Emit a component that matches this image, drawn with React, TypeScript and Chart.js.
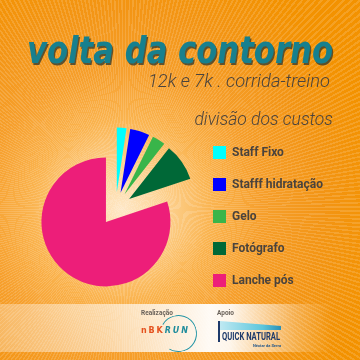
import React, { useEffect, useRef } from "react";
import { Chart, registerables } from "chart.js";

Chart.register(...registerables);

// ---- data ----
const categories = ["Staff Fixo", "Stafff hidratação", "Gelo", "Fotógrafo", "Lanche pós"];
const costShares = [2.4, 4.9, 3.3, 9.3, 80.1];
const sliceColors = ["#00ffff", "#0000ff", "#39b54a", "#006837", "#ed1e79"];
const mainTitle = "volta da contorno";
const subTitle = "12k e 7k . corrida-treino";
const legendTitle = "divisão dos custos";
const sponsorLabels = ["Realização", "Apoio"];

const TEXT_DARK = "#4a433d";
const LEGEND_FONT_SIZE = 12;
const BOX = 13;
const LEGEND_PAD = 19;

// pushes every slice outward along its own bisector (exploded pie)
const explodePlugin = {
  id: "explode",
  afterDatasetUpdate(chart: any, args: any, opts: any) {
    const d = (opts && opts.distance) || 0;
    args.meta.data.forEach((arc: any) => {
      const mid = (arc.startAngle + arc.endAngle) / 2;
      arc.x += Math.cos(mid) * d;
      arc.y += Math.sin(mid) * d;
    });
  },
};

function measure(text: string, font: string): number {
  const c = document.createElement("canvas");
  const ctx = c.getContext("2d")!;
  ctx.font = font;
  return ctx.measureText(text).width;
}

export default function App() {
  const canvasRef = useRef<HTMLCanvasElement>(null);

  useEffect(() => {
    const canvas = canvasRef.current!;
    const labelFont = `bold ${LEGEND_FONT_SIZE}px Roboto`;
    const maxText = Math.max(...categories.map((c) => measure(c, labelFont)));
    const itemW = BOX + LEGEND_FONT_SIZE / 2 + maxText;
    const chartRight = 213 - LEGEND_PAD;
    const padR = 360 - chartRight - (LEGEND_PAD + itemW + 10);
    const padL = 2 * 115.6 - chartRight;

    const chart = new Chart(canvas, {
      type: "pie",
      data: {
        labels: categories,
        datasets: [
          {
            data: costShares,
            backgroundColor: sliceColors,
            borderColor: sliceColors,
            borderWidth: 0,
            hoverOffset: 0,
            offset: 0,
            radius: 64.5,
            clip: false as any,
          } as any,
        ],
      },
      options: {
        responsive: false,
        animation: false,
        events: [],
        layout: { padding: { left: padL, right: padR, top: 87, bottom: 30 } },
        plugins: {
          explode: { distance: 16.5 },
          tooltip: { enabled: false },
          legend: {
            position: "right",
            align: "start",
            title: {
              display: true,
              text: legendTitle,
              position: "end",
              color: TEXT_DARK,
              font: { family: "Roboto", size: 17.5, style: "italic", weight: 300 as any, lineHeight: 1 },
              padding: { top: 25, bottom: -2.5 },
            },
            labels: {
              boxWidth: BOX,
              boxHeight: BOX,
              padding: LEGEND_PAD,
              color: TEXT_DARK,
              font: { family: "Roboto", size: LEGEND_FONT_SIZE, weight: "bold" },
            },
          },
        } as any,
      },
      plugins: [explodePlugin as any],
    });
    return () => chart.destroy();
  }, []);

  const titleFont = "italic bold 38px 'DejaVu Sans'";
  const titleScale = 306 / measure(mainTitle, titleFont);
  const subFont = "italic 300 18px Roboto";
  const subScale = 182 / measure(subTitle, subFont);
  const qnFont = "bold 10px Roboto";
  const qnScale = 58 / measure("QUICK NATURAL", qnFont);

  return (
    <div
      style={{
        position: "fixed",
        left: 0,
        top: 0,
        width: 360,
        height: 360,
        overflow: "hidden",
        background:
          "repeating-conic-gradient(from 0deg at 125px 210px, rgba(255,255,255,0.14) 0deg 0.4deg, rgba(255,255,255,0) 0.4deg 1deg)," +
          "radial-gradient(circle at 122px 210px, #fee8c8 0px, #fdd496 40px, #fab450 90px, #f69f2c 140px, #f39515 200px, #f39200 260px)",
      }}
    >
      {/* footer band */}
      <div
        style={{
          position: "absolute",
          left: 0,
          top: 304,
          width: 360,
          height: 48,
          background:
            "linear-gradient(to right, rgba(255,255,255,0.3) 0%, rgba(255,255,255,0.55) 30%, rgba(255,255,255,0.95) 58%, rgba(255,255,255,0.9) 64%, rgba(255,255,255,0.25) 82%, rgba(255,255,255,0) 92%)",
        }}
      />
      <canvas
        ref={canvasRef}
        width={360}
        height={360}
        style={{ position: "absolute", left: 0, top: 0, width: 360, height: 360 }}
      />
      {/* title */}
      <div
        style={{
          position: "absolute",
          left: 27,
          top: 31,
          fontFamily: "'DejaVu Sans'",
          fontWeight: "bold",
          fontStyle: "italic",
          fontSize: 38,
          lineHeight: "38px",
          color: "#17808e",
          whiteSpace: "nowrap",
          textShadow: "1.5px 1.5px 0 rgba(45,55,45,0.75)",
          transform: `scaleX(${titleScale})`,
          transformOrigin: "left top",
        }}
      >
        {mainTitle}
      </div>
      <div
        style={{
          position: "absolute",
          right: 30,
          top: 72,
          fontFamily: "Roboto",
          fontWeight: 300,
          fontStyle: "italic",
          fontSize: 18,
          lineHeight: "18px",
          color: TEXT_DARK,
          whiteSpace: "nowrap",
          transform: `scaleX(${subScale})`,
          transformOrigin: "right top",
        }}
      >
        {subTitle}
      </div>
      {/* sponsors */}
      <div style={{ position: "absolute", left: 141, top: 309, fontFamily: "Roboto", fontWeight: "bold", fontSize: 6.5, color: "#6a625a", whiteSpace: "nowrap" }}>
        {sponsorLabels[0]}
      </div>
      <div style={{ position: "absolute", left: 217, top: 309, fontFamily: "Roboto", fontWeight: "bold", fontSize: 6.5, color: "#6a625a", whiteSpace: "nowrap" }}>
        {sponsorLabels[1]}
      </div>
      <div
        style={{
          position: "absolute",
          left: 159.5,
          top: 315,
          width: 37,
          height: 37,
          borderRadius: "50%",
          border: "1.8px solid #2596a6",
          borderLeftColor: "transparent",
          boxSizing: "border-box",
          transform: "rotate(-15deg)",
        }}
      />
      <div
        style={{
          position: "absolute",
          left: 141,
          top: 326.5,
          fontFamily: "'DejaVu Sans'",
          fontWeight: "bold",
          fontSize: 8,
          lineHeight: "8px",
          letterSpacing: 1.9,
          whiteSpace: "nowrap",
        }}
      >
        <span style={{ color: "#e4521f" }}>nBK</span>
        <span style={{ color: "#1f8c9c", fontStyle: "italic" }}>RUN</span>
      </div>
      <div
        style={{
          position: "absolute",
          left: 220,
          top: 321,
          width: 61,
          height: 9,
          background: "linear-gradient(to right, #bfe9f2, #5cc6dc 70%, #2a8fb5)",
          clipPath: "polygon(0 0, 100% 55%, 100% 100%, 0 100%)",
        }}
      />
      <div style={{ position: "absolute", left: 218, top: 321, width: 2, height: 21, background: "#1d3a6b" }} />
      <div
        style={{
          position: "absolute",
          left: 222,
          top: 331,
          fontFamily: "Roboto",
          fontWeight: "bold",
          fontSize: 10,
          lineHeight: "11px",
          color: "#1d3a6b",
          whiteSpace: "nowrap",
          transform: `scaleX(${qnScale})`,
          transformOrigin: "left top",
        }}
      >
        QUICK NATURAL
      </div>
      <div
        style={{
          position: "absolute",
          left: 253,
          top: 342.5,
          fontFamily: "Roboto",
          fontWeight: "bold",
          fontSize: 4,
          lineHeight: "5px",
          color: "#2a5a8a",
          whiteSpace: "nowrap",
        }}
      >
        Néctar da Serra
      </div>
    </div>
  );
}
